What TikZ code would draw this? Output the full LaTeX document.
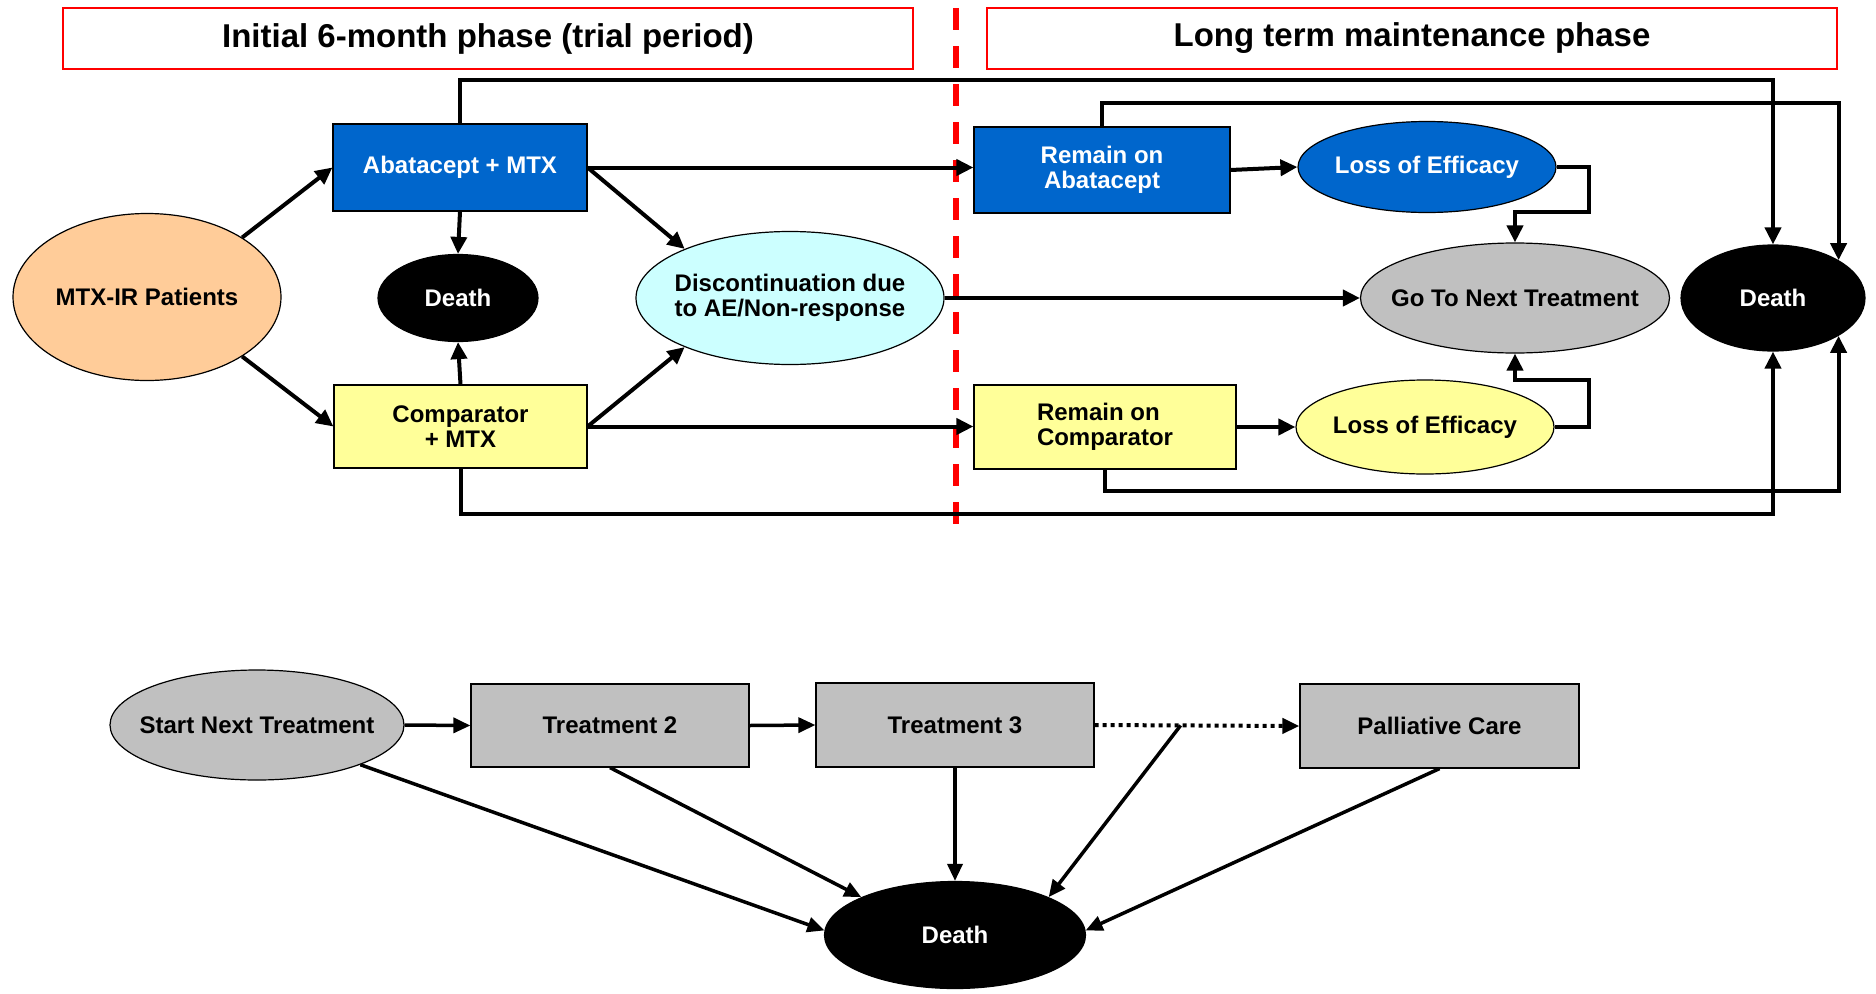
\documentclass[tikz,border=0pt]{standalone}
\usepackage{fontspec}
\setmainfont{Liberation Sans}
\usetikzlibrary{arrows.meta,shapes.geometric,calc}
\definecolor{abblue}{HTML}{0066CC}
\definecolor{cyel}{HTML}{FFFF99}
\definecolor{peach}{HTML}{FFCC99}
\definecolor{lcyan}{HTML}{CCFFFF}
\definecolor{lgray}{HTML}{C0C0C0}
\definecolor{hred}{HTML}{FF0000}
\begin{document}
\begin{tikzpicture}[x=1pt,y=-1pt,
  base/.style={font=\fontsize{24}{25}\selectfont\bfseries, inner sep=0pt, align=center, draw=black, line width=1.2pt},
  box/.style={base, rectangle},
  oval/.style={base, ellipse, inner xsep=-45pt, inner ysep=-22pt},
  deathnode/.style={oval, fill=black, text=white},
  hdr/.style={draw=hred, line width=2pt, minimum width=850pt, minimum height=61pt, inner sep=0pt, font=\fontsize{33}{36}\selectfont\bfseries},
  arr/.style={line width=4pt, -{Triangle[length=17pt,width=16pt]}},
  arrlow/.style={line width=3.5pt, -{Triangle[length=17pt,width=15pt]}},
  dotarr/.style={line width=4pt, dash pattern=on 4pt off 4pt, -{Triangle[length=17pt,width=15pt]}},
  reddash/.style={draw=hred, line width=5.5pt, dash pattern=on 22pt off 16pt}
]
\useasboundingbox (0,0) rectangle (1876,993);

% headers
\node[hdr] (h1) at (488,38.5) {Initial 6-month phase (trial period)};
\node[hdr] (h2) at (1412,38.5) {Long term maintenance phase};
\coordinate (dtop) at (956,8);
\coordinate (dbot) at (956,532);
\draw[reddash] (dtop) -- (dbot);

% top nodes
\node[oval, fill=peach, minimum width=268pt, minimum height=167pt] (mtx) at (147,297) {MTX-IR Patients};
\node[box, fill=abblue, text=white, minimum width=254pt, minimum height=87pt] (abat) at (460,167.5) {Abatacept + MTX};
\node[box, fill=cyel, minimum width=253pt, minimum height=83pt] (comp) at (460.5,426.5) {Comparator\\+ MTX};
\node[deathnode, minimum width=160pt, minimum height=87pt] (deathL) at (458,298) {Death};
\node[oval, fill=lcyan, minimum width=308pt, minimum height=133pt] (disc) at (790,298) {Discontinuation due\\to AE/Non-response};
\node[box, fill=abblue, text=white, minimum width=256pt, minimum height=86pt] (remA) at (1102,170) {Remain on\\Abatacept};
\node[box, fill=cyel, minimum width=262pt, minimum height=84pt, align=left] (remC) at (1105,427) {Remain on\\Comparator};
\node[oval, fill=abblue, text=white, minimum width=258pt, minimum height=91pt] (lossB) at (1427,167) {Loss of Efficacy};
\node[oval, fill=cyel, minimum width=258pt, minimum height=94pt] (lossY) at (1425,427) {Loss of Efficacy};
\node[oval, fill=lgray, minimum width=309pt, minimum height=110pt] (gonext) at (1515,298) {Go To Next Treatment};
\node[deathnode, minimum width=184pt, minimum height=106pt] (deathR) at (1773,298) {Death};

% top connectors
\draw[arr] (mtx.32) -- (abat.west);
\draw[arr] (mtx.-32) -- (comp.west);
\draw[arr] (abat.south) -- (deathL.north);
\draw[arr] (comp.north) -- (deathL.south);
\draw[arr] (abat.east) -- (disc.155);
\draw[arr] (comp.east) -- (disc.205);
\draw[arr] (abat.east) -- (abat.east -| remA.west);
\draw[arr] (comp.east) -- (comp.east -| remC.west);
\draw[arr] (disc.east) -- (gonext.west);
\draw[arr] (remA.east) -- (lossB.west);
\draw[arr] (remC.east) -- (lossY.west);
\coordinate (kB) at (1589,212);
\coordinate (kY) at (1589,380);
\draw[arr] (lossB.east) -| (kB) -| (gonext.north);
\draw[arr] (lossY.east) -| (kY) -| (gonext.south);
\coordinate (top1) at (0,80);
\coordinate (top2) at (0,103);
\coordinate (bot2) at (0,491);
\coordinate (bot1) at (0,514);
\draw[arr] (abat.north) |- (deathR.north |- top1) -- (deathR.north);
\draw[arr] (remA.north) |- (deathR.30 |- top2) -- (deathR.30);
\draw[arr] (remC.south) |- (deathR.-30 |- bot2) -- (deathR.-30);
\draw[arr] (comp.south) |- (deathR.south |- bot1) -- (deathR.south);

% bottom nodes
\node[oval, fill=lgray, minimum width=294pt, minimum height=110pt] (start) at (257,725) {Start Next Treatment};
\node[box, fill=lgray, minimum width=278pt, minimum height=83pt] (t2) at (610,725.5) {Treatment 2};
\node[box, fill=lgray, minimum width=278pt, minimum height=84pt] (t3) at (955,725) {Treatment 3};
\node[box, fill=lgray, minimum width=279pt, minimum height=84pt] (pc) at (1439.5,726) {Palliative Care};
\node[deathnode, minimum width=261pt, minimum height=107pt] (dB) at (955,935) {Death};

% bottom connectors
\draw[arrlow] (start.east) -- (t2.west);
\draw[arrlow] (t2.east) -- (t3.west);
\draw[dotarr] (t3.east) -- (pc.west);
\coordinate (br) at ($(t3.east)!0.42!(pc.west)$);
\draw[arrlow] (br) -- (dB.22);
\draw[arrlow] (start.-21) -- (dB.178);
\draw[arrlow] (t2.south) -- (dB.158);
\draw[arrlow] (t3.south) -- (dB.north);
\draw[arrlow] (pc.south) -- (dB.2);
\end{tikzpicture}
\end{document}
